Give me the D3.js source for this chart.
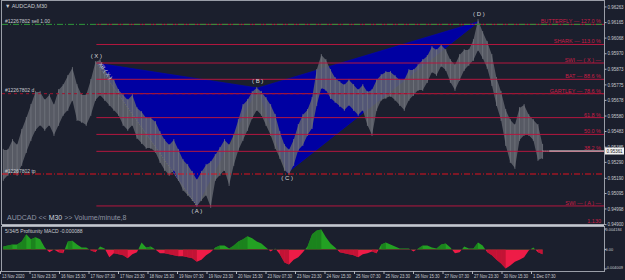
<!DOCTYPE html>
<html>
<head>
<meta charset="utf-8">
<script src="https://cdn.jsdelivr.net/npm/d3@7"></script>
<style>
  html, body { margin: 0; padding: 0; background: #1b1f2d; }
  svg { display: block; font-family: "Liberation Sans", Arial, sans-serif; }
</style>
</head>
<body>
<svg id="chart" width="625" height="280"></svg>
<script>
// sampled M30 bars (every 5th bar, starting at bar 3)
const sampleStart = 3;
const sampleStep = 5;
const priceHigh = [
  0.95368, 0.95368, 0.95430, 0.95399, 0.95493, 0.95568, 0.95649, 0.95731, 0.95731, 0.95681,
  0.95712, 0.95649, 0.95743, 0.95774, 0.95831, 0.95881, 0.95774, 0.95712, 0.95712, 0.95806,
  0.95918, 0.95931, 0.95868, 0.95831, 0.95806, 0.95743, 0.95712, 0.95681, 0.95712, 0.95630,
  0.95605, 0.95568, 0.95568, 0.95543, 0.95480, 0.95430, 0.95399, 0.95430, 0.95368, 0.95305,
  0.95274, 0.95230, 0.95180, 0.95230, 0.95274, 0.95292, 0.95336, 0.95380, 0.95430, 0.95399,
  0.95461, 0.95555, 0.95649, 0.95681, 0.95731, 0.95756, 0.95731, 0.95693, 0.95649, 0.95587,
  0.95480, 0.95399, 0.95368, 0.95430, 0.95524, 0.95587, 0.95618, 0.95693, 0.95868, 0.95962,
  0.95931, 0.95868, 0.95818, 0.95793, 0.95774, 0.95806, 0.95774, 0.95743, 0.95774, 0.95731,
  0.95743, 0.95806, 0.95837, 0.95856, 0.95856, 0.95831, 0.95806, 0.95806, 0.95868, 0.95868,
  0.95900, 0.95931, 0.95956, 0.96012, 0.95993, 0.96025, 0.95993, 0.95931, 0.95900, 0.95962,
  0.95993, 0.95993, 0.96056, 0.96181, 0.96106, 0.96044, 0.95962, 0.95818, 0.95731, 0.95618,
  0.95555, 0.95524, 0.95630, 0.95649, 0.95587, 0.95555, 0.95524, 0.95399
];
const priceLow = [
  0.95180, 0.95211, 0.95242, 0.95211, 0.95274, 0.95355, 0.95430, 0.95493, 0.95524, 0.95493,
  0.95524, 0.95461, 0.95524, 0.95587, 0.95618, 0.95681, 0.95555, 0.95543, 0.95524, 0.95587,
  0.95681, 0.95712, 0.95681, 0.95649, 0.95618, 0.95587, 0.95524, 0.95493, 0.95524, 0.95443,
  0.95411, 0.95380, 0.95380, 0.95355, 0.95292, 0.95242, 0.95211, 0.95242, 0.95180, 0.95117,
  0.95086, 0.95054, 0.95017, 0.95054, 0.95086, 0.95011, 0.95180, 0.95211, 0.95242, 0.95148,
  0.95274, 0.95368, 0.95430, 0.95493, 0.95568, 0.95618, 0.95587, 0.95524, 0.95461, 0.95380,
  0.95317, 0.95242, 0.95217, 0.95274, 0.95368, 0.95399, 0.95461, 0.95505, 0.95649, 0.95756,
  0.95743, 0.95693, 0.95668, 0.95643, 0.95618, 0.95649, 0.95618, 0.95587, 0.95618, 0.95524,
  0.95461, 0.95618, 0.95681, 0.95693, 0.95706, 0.95681, 0.95649, 0.95618, 0.95681, 0.95712,
  0.95743, 0.95743, 0.95793, 0.95856, 0.95837, 0.95893, 0.95868, 0.95793, 0.95743, 0.95806,
  0.95868, 0.95900, 0.95931, 0.95993, 0.95943, 0.95881, 0.95774, 0.95649, 0.95555, 0.95399,
  0.95292, 0.95255, 0.95430, 0.95461, 0.95461, 0.95430, 0.95305, 0.95317
];
const lastClose = 0.95361;

// 5/34/5 Profitunity MACD histogram, same sampling
const macdHist = [
  0.0006, 0.0008, 0.0010, 0.0010, 0.0016, 0.0031, 0.0021, 0.0025, 0.0021, 0.0004,
  -0.0006, 0.0000, -0.0006, -0.0008, 0.0016, 0.0018, 0.0010, 0.0004, 0.0004, -0.0002,
  -0.0006, 0.0006, 0.0002, -0.0016, -0.0008, -0.0010, -0.0012, -0.0018, -0.0010, -0.0006,
  0.0014, 0.0004, 0.0006, 0.0000, -0.0008, -0.0008, -0.0010, -0.0012, -0.0014, -0.0014,
  -0.0016, -0.0018, -0.0025, -0.0021, -0.0012, -0.0006, 0.0004, 0.0008, 0.0008, 0.0002,
  0.0008, 0.0016, 0.0021, 0.0027, 0.0023, 0.0016, 0.0012, 0.0004, -0.0004, 0.0002,
  -0.0010, -0.0027, -0.0031, -0.0021, -0.0016, -0.0006, 0.0006, 0.0031, 0.0039, 0.0041,
  0.0025, 0.0012, 0.0004, -0.0006, -0.0008, -0.0010, -0.0012, -0.0016, -0.0010, -0.0008,
  -0.0004, -0.0008, 0.0010, 0.0014, 0.0010, 0.0006, 0.0002, 0.0002, 0.0002, -0.0004,
  0.0002, 0.0008, 0.0008, 0.0004, 0.0002, 0.0010, 0.0012, 0.0004, -0.0008, -0.0006,
  0.0006, 0.0002, 0.0002, 0.0014, 0.0008, -0.0006, -0.0012, -0.0021, -0.0029, -0.0039,
  -0.0033, -0.0025, -0.0021, -0.0016, -0.0002, 0.0004, -0.0006, -0.0010
];

const priceTicks = ['0.96263', '0.96165', '0.96068', '0.95970', '0.95873', '0.95775', '0.95678', '0.95580',
  '0.95483', '0.95385', '0.95290', '0.95190', '0.95095', '0.94998', '0.94900'];
const macdTicks = ['0.004184', '0.00', '-0.004009'];
const timeLabels = ['13 Nov 2020', '13 Nov 23:30', '16 Nov 15:30', '17 Nov 07:30', '17 Nov 23:30',
  '18 Nov 15:30', '19 Nov 07:30', '19 Nov 23:30', '20 Nov 15:30', '23 Nov 07:30', '23 Nov 23:30',
  '24 Nov 15:30', '25 Nov 07:30', '25 Nov 23:30', '26 Nov 15:30', '27 Nov 07:30', '27 Nov 23:30',
  '30 Nov 15:30', '1 Dec 07:30'];
const timeTickStep = 32;

// harmonic pattern pivots
const pivots = [
  { name: 'X', bar: 104, price: 0.95912 },
  { name: 'A', bar: 213, price: 0.95017 },
  { name: 'B', bar: 279, price: 0.95756 },
  { name: 'C', bar: 311, price: 0.95224 },
  { name: 'D', bar: 519, price: 0.96172 }
];
const levels = [
  { label: 'BUTTERFLY — 127.0 %', price: 0.96154 },
  { label: 'SHARK — 113.0 %', price: 0.96028 },
  { label: 'SWI — ( X ) —', price: 0.95912 },
  { label: 'BAT — 88.6 %', price: 0.95810 },
  { label: 'GARTLEY — 78.6 %', price: 0.95720 },
  { label: '61.8 %', price: 0.95570 },
  { label: '50.0 %', price: 0.95465 },
  { label: '38.2 %', price: 0.95359 },
  { label: 'SWI — ( A ) —', price: 0.95017 },
  { label: '1.130', price: 0.94901 }
];
const orders = [
  { label: '#12267802 sell 1.00', price: 0.96154, color: '#2f9a3a', dash: '6,2,1,2' },
  { label: '#12267802 d', price: 0.95720, color: '#a0142e', dash: '3,3' },
  { label: '#12267802 tp', price: 0.95217, color: '#e0101e', dash: '6,2,1,2' }
];

const plot = { left: 2, right: 604, top: 2, bottom: 224 };
const sub = { top: 227, bottom: 271 };

const svg = d3.select('#chart');
const x = d3.scaleLinear().domain([0, 576]).range([0.5, 531.5]);
const y = d3.scaleLinear().domain([0.96294, 0.94904]).range([plot.top, plot.bottom]);
const m = d3.scaleLinear().domain([-0.004009, 0.004184]).range([269, 229]);
const sampleX = i => x(sampleStart + i * sampleStep);
// squeeze tiny labels to the narrow terminal font width
const narrow = (sel, perChar) => sel.attr('textLength', d => d.length * perChar).attr('lengthAdjust', 'spacingAndGlyphs');

const defs = svg.append('defs');
defs.append('clipPath').attr('id', 'clipMain').append('rect')
  .attr('x', plot.left).attr('y', plot.top)
  .attr('width', plot.right - plot.left).attr('height', plot.bottom - plot.top);
defs.append('clipPath').attr('id', 'clipUp').append('rect')
  .attr('x', plot.left).attr('y', sub.top).attr('width', plot.right - plot.left).attr('height', m(0) - sub.top);
defs.append('clipPath').attr('id', 'clipDown').append('rect')
  .attr('x', plot.left).attr('y', m(0)).attr('width', plot.right - plot.left).attr('height', sub.bottom - m(0));

const main = svg.append('g').attr('clip-path', 'url(#clipMain)');

// pattern triangles
const pt = p => [x(p.bar), y(p.price)];
const [X, A, B, C, D] = pivots;
const tri = d3.line();
main.selectAll('path.tri')
  .data([[X, A, B], [B, C, D]])
  .join('path')
  .attr('class', 'tri')
  .attr('d', d => tri(d.map(pt)) + 'Z')
  .attr('fill', '#0000a2')
  .attr('stroke', '#0000c0')
  .attr('stroke-width', 0.6);

// XA dotted leg
main.append('line')
  .attr('x1', x(X.bar)).attr('y1', y(X.price))
  .attr('x2', x(A.bar)).attr('y2', y(A.price))
  .attr('stroke', '#e8e030').attr('stroke-width', 0.9).attr('stroke-dasharray', '1,1.5');

// price bars
const bars = d3.range(priceHigh.length);
main.append('path')
  .datum(bars)
  .attr('d', d3.area().x(sampleX).y0(i => y(priceLow[i])).y1(i => y(priceHigh[i])))
  .attr('fill', '#62656e')
  .attr('opacity', 0.85);
main.selectAll('line.bar')
  .data(bars)
  .join('line')
  .attr('class', 'bar')
  .attr('x1', sampleX).attr('x2', sampleX)
  .attr('y1', i => y(priceHigh[i]) - 1).attr('y2', i => y(priceLow[i]) + 1)
  .attr('stroke', '#767981').attr('stroke-width', 0.7);

// fibonacci levels
main.selectAll('line.lvl')
  .data(levels)
  .join('line')
  .attr('class', 'lvl')
  .attr('x1', x(X.bar)).attr('x2', plot.right)
  .attr('y1', d => y(d.price)).attr('y2', d => y(d.price))
  .attr('stroke', '#b5173f').attr('stroke-width', 1);
main.selectAll('text.lvl')
  .data(levels)
  .join('text')
  .attr('class', 'lvl')
  .attr('x', plot.right - 3).attr('y', d => y(d.price) - 1)
  .attr('text-anchor', 'end')
  .attr('font-size', 5.5)
  .attr('fill', '#c81e46')
  .text(d => d.label);

// order lines
main.selectAll('line.ord')
  .data(orders)
  .join('line')
  .attr('class', 'ord')
  .attr('x1', plot.left).attr('x2', plot.right)
  .attr('y1', d => y(d.price)).attr('y2', d => y(d.price))
  .attr('stroke', d => d.color).attr('stroke-width', 1)
  .attr('stroke-dasharray', d => d.dash);
main.selectAll('text.ord')
  .data(orders)
  .join('text')
  .attr('class', 'ord')
  .attr('x', 5).attr('y', d => y(d.price) - 1.5)
  .attr('font-size', 5)
  .attr('fill', '#c8cad0')
  .text(d => d.label);

// current price line
const lastBar = sampleStart + (priceHigh.length - 1) * sampleStep;
main.append('line')
  .attr('x1', x(lastBar)).attr('x2', x(lastBar) + 7)
  .attr('y1', y(lastClose)).attr('y2', y(lastClose))
  .attr('stroke', '#d0d0d0').attr('stroke-dasharray', '1,1');
main.append('line')
  .attr('x1', x(lastBar) + 7).attr('x2', plot.right)
  .attr('y1', y(lastClose)).attr('y2', y(lastClose))
  .attr('stroke', '#e6e6e6').attr('stroke-width', 1);

// pivot labels
const labelOffset = { X: -7, A: 5, B: -7, C: 5, D: -7 };
main.selectAll('text.piv')
  .data(pivots)
  .join('text')
  .attr('class', 'piv')
  .attr('x', d => x(d.bar))
  .attr('y', d => y(d.price) + labelOffset[d.name] + 2)
  .attr('text-anchor', 'middle')
  .attr('font-size', 6)
  .attr('fill', '#d8d8dc')
  .text(d => '( ' + d.name + ' )');

// XA ratio text along the leg
const ang = Math.atan2(y(A.price) - y(X.price), x(A.bar) - x(X.bar)) * 180 / Math.PI;
main.append('text')
  .attr('transform', `translate(${x(X.bar) + 2},${y(X.price) + 1}) rotate(${ang})`)
  .attr('font-size', 5.5)
  .attr('fill', '#d0d0d8')
  .text('XB ( X )');

// titles
svg.append('text').attr('x', 5).attr('y', 8).attr('font-size', 5.5).attr('fill', '#c8cad0')
  .text('▼ AUDCAD,M30');
const legend = svg.append('text').attr('x', 7).attr('y', 220).attr('font-size', 7).attr('fill', '#8e94a4');
legend.append('tspan').text('AUDCAD   << ');
legend.append('tspan').attr('fill', '#d0d3dc').text('M30');
legend.append('tspan').text(' >>   Volume/minute,8');

// MACD histogram
const macdArea = d3.area().x(sampleX).y0(m(0)).y1(i => m(macdHist[i]));
svg.append('path').datum(bars).attr('d', macdArea)
  .attr('fill', '#23a023').attr('clip-path', 'url(#clipUp)');
svg.append('path').datum(bars).attr('d', macdArea)
  .attr('fill', '#ee1c47').attr('clip-path', 'url(#clipDown)');
// darker shade where the histogram grows away from zero
const grow = bars.filter(i => i > 0 && Math.abs(macdHist[i]) > Math.abs(macdHist[i - 1]) && macdHist[i] * macdHist[i - 1] > 0);
svg.selectAll('path.shade')
  .data(grow)
  .join('path')
  .attr('class', 'shade')
  .attr('d', i => macdArea([i - 1, i]))
  .attr('fill', i => macdHist[i] > 0 ? '#1a7a1c' : '#b3102f')
  .attr('opacity', 0.75);
svg.append('text').attr('x', 5).attr('y', 233).attr('font-size', 5).attr('fill', '#c8cad0')
  .text('5/34/5 Profitunity MACD -0.000088');

// frames
svg.append('rect').attr('x', plot.left - 0.5).attr('y', plot.top - 1.5)
  .attr('width', plot.right - plot.left + 1).attr('height', plot.bottom - plot.top + 2)
  .attr('fill', 'none').attr('stroke', '#9a9ea8').attr('stroke-width', 1);
svg.append('rect').attr('x', plot.left - 0.5).attr('y', sub.top - 0.5)
  .attr('width', plot.right - plot.left + 1).attr('height', sub.bottom - sub.top + 1)
  .attr('fill', 'none').attr('stroke', '#9a9ea8').attr('stroke-width', 1);
svg.append('line').attr('x1', plot.left).attr('x2', plot.right)
  .attr('y1', plot.bottom + 1.5).attr('y2', plot.bottom + 1.5)
  .attr('stroke', '#c4c7ce').attr('stroke-width', 1.5);

// price axis
const pAxis = svg.append('g');
pAxis.selectAll('line').data(priceTicks).join('line')
  .attr('x1', plot.right + 0.5).attr('x2', plot.right + 2.5)
  .attr('y1', d => y(+d)).attr('y2', d => y(+d)).attr('stroke', '#b0b3ba');
pAxis.selectAll('text').data(priceTicks).join('text')
  .attr('x', plot.right + 3.5).attr('y', d => y(+d) + 1.7)
  .attr('font-size', 4.8).attr('fill', '#c8cad0').text(d => d)
  .call(narrow, 2.3);
const box = svg.append('g').attr('transform', `translate(${plot.right + 1},${y(lastClose)})`);
box.append('rect').attr('x', 0).attr('y', -3.5).attr('width', 19).attr('height', 7).attr('fill', '#f2f2f2');
box.append('text').attr('x', 1.5).attr('y', 1.8).attr('font-size', 4.8).attr('fill', '#202020')
  .datum(lastClose.toFixed(5)).text(d => d).call(narrow, 2.3);

// MACD axis
const mAxis = svg.append('g');
mAxis.selectAll('line').data(macdTicks).join('line')
  .attr('x1', plot.right + 0.5).attr('x2', plot.right + 2.5)
  .attr('y1', d => m(+d)).attr('y2', d => m(+d)).attr('stroke', '#b0b3ba');
mAxis.selectAll('text').data(macdTicks).join('text')
  .attr('x', plot.right + 1.5).attr('y', d => Math.min(m(+d) + 1.5, sub.bottom - 2.5))
  .attr('font-size', 3.9).attr('fill', '#c8cad0').text(d => d);

// time axis
const tAxis = svg.append('g');
tAxis.selectAll('line').data(timeLabels).join('line')
  .attr('x1', (d, j) => x(j * timeTickStep)).attr('x2', (d, j) => x(j * timeTickStep))
  .attr('y1', sub.bottom).attr('y2', sub.bottom + 3).attr('stroke', '#b0b3ba');
tAxis.selectAll('text').data(timeLabels).join('text')
  .attr('x', (d, j) => x(j * timeTickStep) + 1.5).attr('y', 277.5)
  .attr('font-size', 5).attr('fill', '#c8cad0').text(d => d)
  .call(narrow, 2.05);
</script>
</body>
</html>
